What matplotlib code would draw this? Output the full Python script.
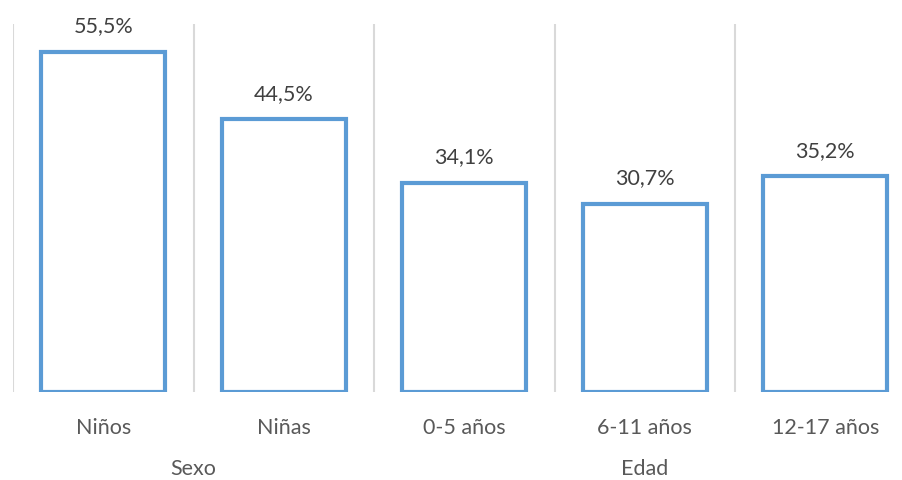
import numpy as np
import matplotlib.pyplot as plt
from matplotlib import transforms

categories = ['Niños', 'Niñas', '0-5 años', '6-11 años', '12-17 años']
values = [55.5, 44.5, 34.1, 30.7, 35.2]
groups = ['Sexo', 'Edad']
group_spans = [(0, 1), (2, 4)]

plt.rcParams['font.family'] = ['Lato', 'DejaVu Sans']

fig = plt.figure(figsize=(9.03, 4.8), dpi=100)
ax = fig.add_axes([13 / 903, 88 / 480, 902.5 / 903, 368 / 480])

x = np.arange(len(categories))
ax.bar(x, values, width=0.687, facecolor='white', edgecolor='#5B9BD5', linewidth=3, zorder=3)

# separators between categories
ax.vlines(np.arange(len(categories) + 1) - 0.5, 0, 60, color='#D9D9D9', linewidth=1.5, zorder=1)

for xi, v in zip(x, values):
    ax.annotate(('%.1f%%' % v).replace('.', ','), (xi, v), xytext=(0, 11), textcoords='offset points',
                ha='center', va='bottom', fontsize=15.5, color='#404040')

ax.set_xlim(-0.5, len(categories) - 0.5)
ax.set_ylim(0, 60)
ax.set_xticks(x)
ax.set_xticklabels(categories, fontsize=15.5, color='#595959')
ax.tick_params(axis='x', length=0, pad=19)
ax.set_yticks([])
for s in ax.spines.values():
    s.set_visible(False)

trans = transforms.blended_transform_factory(ax.transData, fig.transFigure)
for g, (a, b) in zip(groups, group_spans):
    ax.text((a + b) / 2, 1 / 480, g, transform=trans, ha='center', va='bottom',
            fontsize=15.5, color='#595959')

fig.savefig('out.png', dpi=100)
